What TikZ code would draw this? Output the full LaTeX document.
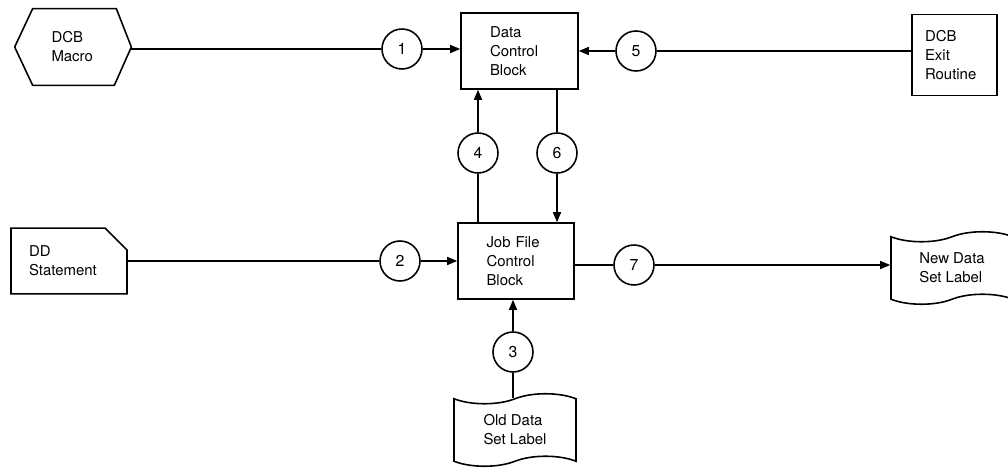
\documentclass[tikz,border=0pt]{standalone}
\usepackage{fontspec}
\setmainfont{TeX Gyre Heros}
\usetikzlibrary{arrows.meta,positioning,calc,shapes.misc,shapes.symbols}

\begin{document}
\begin{tikzpicture}[
  x=0.02cm, y=-0.02cm,
  every node/.style={font=\fontsize{8.5}{10.8}\selectfont,align=left},
  box/.style={draw,line width=0.9pt,minimum width=2.34cm,minimum height=1.52cm,text width=1.18cm},
  hexa/.style={minimum width=2.32cm,minimum height=1.52cm,text width=0.86cm},
  card/.style={draw,line width=0.9pt,chamfered rectangle,chamfered rectangle corners=north east,
    chamfered rectangle xsep=0.2cm,chamfered rectangle ysep=0.24cm,minimum width=2.32cm,minimum height=1.28cm,
    text width=1.6cm},
  tapebox/.style={draw,line width=0.9pt,tape,tape bend top=in and out,tape bend bottom=in and out,
    tape bend height=0.2cm,minimum width=2.44cm,minimum height=1.45cm},
  num/.style={draw,circle,line width=0.9pt,minimum size=0.8cm,inner sep=0pt,font=\fontsize{9}{10}\selectfont},
  arr/.style={-{Triangle[length=2mm,width=1.6mm]},line width=0.8pt},
  ln/.style={line width=0.8pt}
]
\useasboundingbox (0,0) rectangle (1008,472);
\node[hexa] (macro) at (73,47) {DCB\\Macro};
\draw[line width=0.9pt] (macro.west) -- ($(macro.north west)+(18,0)$) -- ($(macro.north east)+(-15,0)$)
  -- (macro.east) -- ($(macro.south east)+(-17,0)$) -- ($(macro.south west)+(18,0)$) -- cycle;
\node[box] (dcb) at (519.5,51) {Data\\Control\\Block};
\node[box,minimum width=1.7cm,minimum height=1.62cm] (exitr) at (954.5,55) {DCB\\Exit\\Routine};
\node[box,minimum width=2.32cm] (jfcb) at (516,261) {Job File\\Control\\Block};
\node[card] (dd) at (69,261) {DD\\Statement};
\node[tapebox] (newlbl) at (952,268) {New Data\\Set Label};
\node[tapebox] (oldlbl) at (515,430) {Old Data\\Set Label};
% numbered circles
\node[num] (c1) at (402,49) {1};
\node[num] (c2) at (400,261) {2};
\node[num] (c3) at (513,352) {3};
\node[num] (c4) at (478,153) {4};
\node[num] (c5) at (636,51) {5};
\node[num] (c6) at (557,153) {6};
\node[num] (c7) at (634,265) {7};
% connectors
\draw[ln] (macro.east |- c1) -- (c1);
\draw[arr] (c1) -- (c1 -| dcb.west);
\draw[arr] (c5) -- (c5 -| dcb.east);
\draw[ln] (c5) -- (c5 -| exitr.west);
\draw[arr] (c4) -- (c4 |- dcb.south);
\draw[ln] (c4) -- (c4 |- jfcb.north);
\draw[ln] (c6 |- dcb.south) -- (c6);
\draw[arr] (c6) -- (c6 |- jfcb.north);
\draw[ln] (dd.east) -- (c2);
\draw[arr] (c2) -- (c2 -| jfcb.west);
\draw[ln] (jfcb.east |- c7) -- (c7);
\draw[arr] (c7) -- (c7 -| newlbl.west);
\draw[arr] (c3) -- (c3 |- jfcb.south);
\draw[ln] (c3) -- (c3 |- oldlbl.north);
\end{tikzpicture}
\end{document}
